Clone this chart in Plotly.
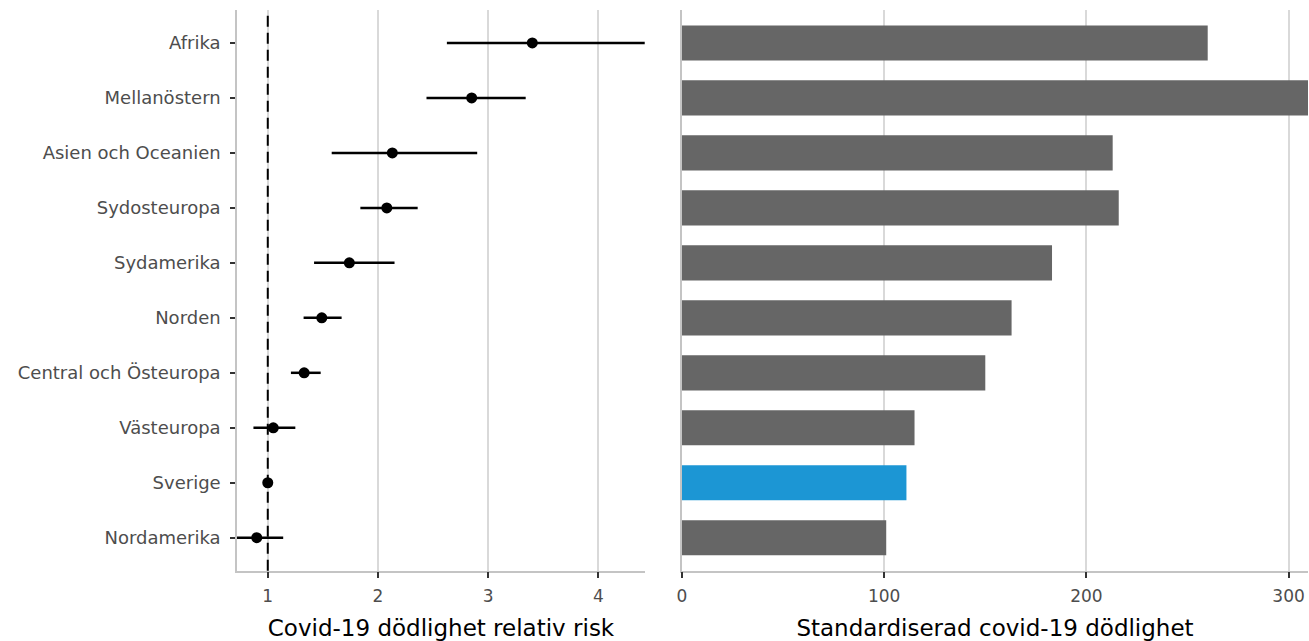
import plotly.graph_objects as go

regions = ["Afrika", "Mellanöstern", "Asien och Oceanien", "Sydosteuropa", "Sydamerika",
           "Norden", "Central och Östeuropa", "Västeuropa", "Sverige", "Nordamerika"]
rel_risk = [3.40, 2.85, 2.13, 2.08, 1.74, 1.49, 1.33, 1.05, 1.00, 0.90]
rr_low = [2.625, 2.44, 1.58, 1.84, 1.42, 1.325, 1.21, 0.87, 1.00, 0.65]
rr_high = [4.42, 3.34, 2.90, 2.36, 2.15, 1.67, 1.48, 1.25, 1.00, 1.14]
std_mortality = [260, 310, 213, 216, 183, 163, 150, 115, 111, 101]
highlight = "Sverige"

left_ticks = [1, 2, 3, 4]
right_ticks = [0, 100, 200, 300]

FONT = "DejaVu Sans"
GRID = "#d9d9d9"
AXLINE = "#c4c4c4"

W, H = 1309, 641


def px_x(v):
    return v / W


def px_y(v):
    return 1 - v / H


bar_colors = ["#1c96d4" if r == highlight else "#666666" for r in regions]

fig = go.Figure()

fig.add_trace(go.Scatter(
    x=rel_risk, y=regions, mode="markers",
    marker=dict(color="black", size=11),
    error_x=dict(type="data", symmetric=False,
                 array=[h - v for h, v in zip(rr_high, rel_risk)],
                 arrayminus=[v - l for v, l in zip(rel_risk, rr_low)],
                 color="black", thickness=2.5, width=0),
    cliponaxis=False, showlegend=False, hoverinfo="skip",
    xaxis="x", yaxis="y"))

fig.add_trace(go.Bar(
    x=std_mortality, y=regions, orientation="h",
    marker=dict(color=bar_colors, line=dict(width=0)),
    width=0.64, showlegend=False, xaxis="x2", yaxis="y2"))

fig.add_shape(type="line", xref="x", yref="y domain", x0=1, x1=1, y0=0, y1=1,
              line=dict(color="black", width=2, dash="11px,6px"), layer="above")

ydom = [px_y(570.7), px_y(10)]
common_x = dict(showline=True, linecolor=AXLINE, linewidth=1.5, mirror=False,
                showgrid=True, gridcolor=GRID, gridwidth=1.5, zeroline=False,
                ticks="outside", ticklen=6, tickwidth=1.5, tickcolor="#333333",
                ticklabelstandoff=3,
                tickfont=dict(family=FONT, size=17, color="#4d4d4d"),
                automargin=False)

fig.update_layout(
    width=W, height=H,
    margin=dict(l=0, r=0, t=0, b=0),
    paper_bgcolor="white", plot_bgcolor="white",
    font=dict(family=FONT),
    xaxis=dict(domain=[px_x(237), px_x(645)], range=[0.7208, 4.4225],
               tickvals=left_ticks, ticktext=[str(t) for t in left_ticks],
               title=dict(text="Covid-19 dödlighet relativ risk",
                          font=dict(family=FONT, size=23, color="black"), standoff=15),
               anchor="y", **common_x),
    xaxis2=dict(domain=[px_x(682), px_x(1308)], range=[0, 309.6],
                tickvals=right_ticks, ticktext=[str(t) for t in right_ticks],
                title=dict(text="Standardiserad covid-19 dödlighet",
                           font=dict(family=FONT, size=23, color="black"), standoff=15),
                anchor="y2", **common_x),
    yaxis=dict(domain=ydom, type="category", categoryorder="array", categoryarray=regions,
               range=[9.6, -0.6], showline=True, linecolor=AXLINE, linewidth=1.5,
               showgrid=False, zeroline=False, ticks="outside", ticklen=5, tickwidth=1.5,
               tickcolor="#333333", ticklabelstandoff=6,
               tickfont=dict(family=FONT, size=18, color="#4d4d4d"),
               automargin=False, anchor="x"),
    yaxis2=dict(domain=ydom, type="category", categoryorder="array", categoryarray=regions,
                range=[9.6, -0.6], showline=True, linecolor=AXLINE, linewidth=1.5,
                showgrid=False, zeroline=False, ticks="", showticklabels=False,
                automargin=False, anchor="x2"),
)

fig.write_html("out.html",
               config={"displayModeBar": False},
               post_script="document.body.style.margin='0';document.body.style.overflow='hidden';")
